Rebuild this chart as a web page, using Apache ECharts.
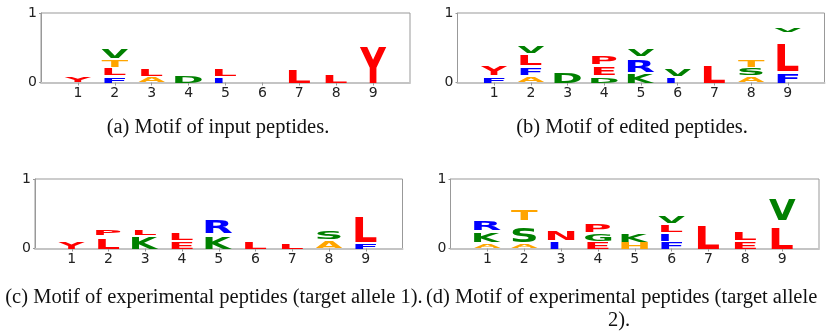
<!DOCTYPE html>
<html>
<head>
<meta charset="utf-8">
<script src="https://cdn.jsdelivr.net/npm/echarts@6/dist/echarts.min.js"></script>
<style>
html, body { margin: 0; padding: 0; background: #fff; }
#chart { width: 829px; height: 335px; }
</style>
</head>
<body>
<div id="chart"></div>
<script>
// peptide positions shown on every x axis
var positions = [1, 2, 3, 4, 5, 6, 7, 8, 9]

// each letter: [position, bottom of glyph, top of glyph, residue]
var motifInput = [
  [1, 0.005, 0.08, 'Y'],
  [2, 0.0, 0.08, 'F'], [2, 0.105, 0.19, 'L'], [2, 0.225, 0.31, 'T'], [2, 0.35, 0.47, 'V'],
  [3, 0.0, 0.07, 'A'], [3, 0.10, 0.20, 'L'],
  [4, 0.0, 0.09, 'D'],
  [5, 0.0, 0.07, 'I'], [5, 0.10, 0.20, 'L'],
  [7, 0.0, 0.18, 'L'],
  [8, 0.0, 0.105, 'L'],
  [9, 0.0, 0.525, 'Y']
]
var motifEdited = [
  [1, 0.0, 0.08, 'F'], [1, 0.105, 0.23, 'Y'],
  [2, 0.0, 0.08, 'A'], [2, 0.115, 0.21, 'F'], [2, 0.25, 0.39, 'L'], [2, 0.42, 0.51, 'V'],
  [3, 0.0, 0.155, 'D'],
  [4, 0.0, 0.07, 'D'], [4, 0.105, 0.21, 'E'], [4, 0.26, 0.37, 'P'],
  [5, 0.0, 0.13, 'K'], [5, 0.155, 0.32, 'R'], [5, 0.38, 0.465, 'V'],
  [6, 0.0, 0.08, 'I'], [6, 0.10, 0.19, 'V'],
  [7, 0.0, 0.235, 'L'],
  [8, 0.0, 0.07, 'A'], [8, 0.10, 0.19, 'S'], [8, 0.225, 0.31, 'T'],
  [9, 0.0, 0.13, 'F'], [9, 0.17, 0.57, 'L'], [9, 0.73, 0.79, 'V']
]
var motifAllele1 = [
  [1, 0.0, 0.087, 'Y'],
  [2, 0.0, 0.15, 'L'], [2, 0.20, 0.28, 'P'],
  [3, 0.0, 0.165, 'K'], [3, 0.19, 0.26, 'L'],
  [4, 0.0, 0.10, 'E'], [4, 0.125, 0.21, 'L'],
  [5, 0.0, 0.174, 'K'], [5, 0.22, 0.405, 'R'],
  [6, 0.0, 0.09, 'L'],
  [7, 0.0, 0.077, 'L'],
  [8, 0.0, 0.10, 'A'], [8, 0.14, 0.256, 'S'],
  [9, 0.0, 0.07, 'F'], [9, 0.10, 0.454, 'L']
]
var motifAllele2 = [
  [1, 0.0, 0.063, 'A'], [1, 0.097, 0.23, 'K'], [1, 0.266, 0.40, 'R'],
  [2, 0.0, 0.063, 'A'], [2, 0.097, 0.304, 'S'], [2, 0.41, 0.555, 'T'],
  [3, 0.0, 0.097, 'I'], [3, 0.12, 0.256, 'N'],
  [4, 0.0, 0.082, 'E'], [4, 0.106, 0.193, 'G'], [4, 0.232, 0.338, 'P'],
  [5, 0.0, 0.082, 'H'], [5, 0.097, 0.203, 'K'],
  [6, 0.0, 0.082, 'F'], [6, 0.111, 0.208, 'I'], [6, 0.24, 0.33, 'L'], [6, 0.36, 0.45, 'V'],
  [7, 0.0, 0.33, 'L'],
  [8, 0.0, 0.097, 'E'], [8, 0.12, 0.227, 'L'],
  [9, 0.0, 0.304, 'L'], [9, 0.41, 0.715, 'V']
]

var captions = [
  '(a) Motif of input peptides.',
  '(b) Motif of edited peptides.',
  '(c) Motif of experimental peptides (target allele 1).',
  '(d) Motif of experimental peptides (target allele',
  '2).'
]

var letterColors = {
  A: '#ffa500', T: '#ffa500', H: '#ffa500',
  V: '#008000', D: '#008000', K: '#008000', S: '#008000', G: '#008000',
  F: '#0000ff', R: '#0000ff', I: '#0000ff',
  Y: '#ff0000', L: '#ff0000', P: '#ff0000', E: '#ff0000', N: '#ff0000'
}

var FONT = 'bold 100px "DejaVu Sans"'
var FULL_W = 0.72   // widest glyph, in position units
var E_W = 0.57      // narrow glyphs are not stretched more than an E

var measureCtx = document.createElement('canvas').getContext('2d')
measureCtx.font = FONT
measureCtx.textBaseline = 'middle'
measureCtx.textAlign = 'left'
var inkCache = {}
function ink(ch) {
  if (!inkCache[ch]) {
    var m = measureCtx.measureText(ch)
    inkCache[ch] = {
      l: m.actualBoundingBoxLeft,
      r: m.actualBoundingBoxRight,
      a: m.actualBoundingBoxAscent,
      d: m.actualBoundingBoxDescent
    }
  }
  return inkCache[ch]
}

// stretch the letter ink so it fills [pos-w/2, pos+w/2] x [bottom, top]
function makeRender(motif) {
  return function (params, api) {
    var d = motif[params.dataIndex]
    var ch = d[3]
    var m = ink(ch)
    var e = ink('E')
    var inkW = m.l + m.r
    var inkH = m.a + m.d
    var boxW = Math.min(FULL_W, E_W * inkW / (e.l + e.r))
    var left = boxW < E_W - 0.05 ? d[0] - E_W / 2 : d[0] - boxW / 2
    var p0 = api.coord([left, d[2]])
    var p1 = api.coord([left + boxW, d[1]])
    var sx = (p1[0] - p0[0]) / inkW
    var sy = (p1[1] - p0[1]) / inkH
    return {
      type: 'text',
      x: p0[0] + m.l * sx,
      y: p0[1] + m.a * sy,
      scaleX: sx,
      scaleY: sy,
      silent: true,
      style: {
        text: ch,
        font: FONT,
        fill: letterColors[ch],
        align: 'left',
        verticalAlign: 'middle'
      }
    }
  }
}

var chart = echarts.init(document.getElementById('chart'), null, { renderer: 'canvas' })

var grids = [
  { left: 41, top: 13, width: 369, height: 69.5 },
  { left: 457.5, top: 13, width: 367, height: 69.5 },
  { left: 35, top: 179, width: 367.5, height: 69.5 },
  { left: 450.5, top: 179, width: 368.5, height: 69.5 }
]
var motifs = [motifInput, motifEdited, motifAllele1, motifAllele2]

var xAxes = [], yAxes = [], series = []
grids.forEach(function (g, i) {
  g.show = true
  g.borderColor = '#999'
  g.borderWidth = 1
  g.containLabel = false
  xAxes.push({
    gridIndex: i,
    type: 'value',
    min: 0,
    max: 10,
    interval: 1,
    axisLine: { show: true, onZero: false, lineStyle: { color: '#c4c4c4', width: 2 } },
    axisTick: { show: true, customValues: positions, length: 3, lineStyle: { color: '#999' } },
    axisLabel: { customValues: positions, fontSize: 14, color: '#222', margin: 4, fontFamily: 'DejaVu Sans' },
    splitLine: { show: false }
  })
  yAxes.push({
    gridIndex: i,
    type: 'value',
    min: 0,
    max: 1,
    interval: 1,
    axisLine: { show: true, lineStyle: { color: '#999' } },
    axisTick: { show: true, length: 2, lineStyle: { color: '#999' } },
    axisLabel: { fontSize: 14, color: '#222', margin: 4, fontFamily: 'DejaVu Sans' },
    splitLine: { show: false }
  })
  series.push({
    type: 'custom',
    xAxisIndex: i,
    yAxisIndex: i,
    silent: true,
    renderItem: makeRender(motifs[i]),
    encode: { x: 0, y: [1, 2] },
    data: motifs[i].map(function (d) { return [d[0], d[1], d[2]] })
  })
})

var captionFont = '20.5px "Liberation Serif"'
chart.setOption({
  animation: false,
  grid: grids,
  xAxis: xAxes,
  yAxis: yAxes,
  series: series,
  graphic: [
    { type: 'text', x: 218, y: 128, style: { text: captions[0], font: captionFont, fill: '#111', align: 'center', verticalAlign: 'middle' } },
    { type: 'text', x: 632, y: 128, style: { text: captions[1], font: captionFont, fill: '#111', align: 'center', verticalAlign: 'middle' } },
    { type: 'text', x: 214, y: 298, style: { text: captions[2], font: captionFont, fill: '#111', align: 'center', verticalAlign: 'middle' } },
    { type: 'text', x: 426, y: 298, style: { text: captions[3], font: captionFont, fill: '#111', align: 'left', verticalAlign: 'middle' } },
    { type: 'text', x: 619, y: 321, style: { text: captions[4], font: captionFont, fill: '#111', align: 'center', verticalAlign: 'middle' } }
  ]
})
</script>
</body>
</html>
